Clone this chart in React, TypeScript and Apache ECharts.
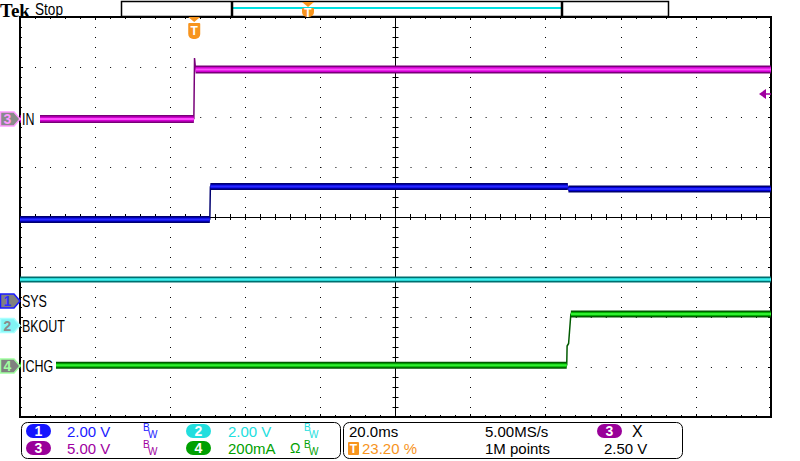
import React, { useEffect, useRef } from "react";
import * as echarts from "echarts";

// ---------- scope settings ----------
const GRID = { left: 20, top: 17, width: 751, height: 400 };
const X_DIVS = 10;
const Y_DIVS = 8;
const TIME_PER_DIV = 20; // ms
const TRIGGER_POS = 0.232; // 23.20 %
const T_MIN = -TRIGGER_POS * X_DIVS * TIME_PER_DIV;
const T_MAX = T_MIN + X_DIVS * TIME_PER_DIV;

// channel order: 1 SYS, 2 BKOUT, 3 IN, 4 ICHG
const channelNames = ["SYS", "BKOUT", "IN", "ICHG"];
const channelScale = [2, 2, 5, 200]; // V/div, V/div, V/div, mA/div
const channelGroundDiv = [5.68, 6.17, 2.04, 6.98]; // ground marker, divisions from top

// ---------- traces (time in ms, value in channel units) ----------
const ch1Time = [-46.4, 4.15, 4.3, 99.5, 99.65, 153.6];
const ch1Value = [3.26, 3.26, 4.58, 4.58, 4.48, 4.48];

const ch2Time = [-46.4, 153.6];
const ch2Value = [1.84, 1.84];

const ch3Time = [-46.4, -0.1, 0.08, 0.35, 153.6];
const ch3Value = [0, 0, 6.1, 4.95, 4.95];

const ch4Time = [-46.4, 99.2, 99.3, 99.7, 100.3, 153.6];
const ch4Value = [3, 3, 80, 90, 208, 208];

// ---------- status texts ----------
const vertSettings = ["2.00 V", "2.00 V", "5.00 V", "200mA"];
const horizTexts = ["20.0ms", "5.00MS/s", "1M points"];
const trigPercentText = "23.20 %";
const trigLevelText = "2.50 V";

const CH_COLORS = ["#1a1aff", "#22dede", "#a000a0", "#00a000"];

function groundY(i: number) {
  return GRID.top + channelGroundDiv[i] * (GRID.height / Y_DIVS);
}

function chAxis(i: number) {
  const s = channelScale[i];
  const off = channelGroundDiv[i];
  return {
    type: "value",
    gridIndex: 0,
    min: -(Y_DIVS - off) * s,
    max: off * s,
    show: false,
    axisLine: { onZero: false },
  };
}

function traceSeries(times: number[], values: number[], yIdx: number, dark: string, mid: string, core: string, bandW: number) {
  const full = times.map((t, i) => [t, values[i]]);
  const band: any[] = [];
  for (let i = 0; i < times.length - 1; i++) {
    if (values[i] === values[i + 1]) {
      band.push([times[i], values[i]], [times[i + 1], values[i]], [(times[i + 1] + (times[i + 2] ?? times[i + 1])) / 2, "-"]);
    }
  }
  const base = {
    type: "line",
    xAxisIndex: 1,
    yAxisIndex: yIdx,
    showSymbol: false,
    symbol: "none",
    silent: true,
    connectNulls: false,
  };
  return [
    { ...base, data: full, lineStyle: { color: dark, width: 1.5 }, z: 3 },
    { ...base, data: band, lineStyle: { color: dark, width: bandW }, z: 3 },
    { ...base, data: band, lineStyle: { color: mid, width: bandW - 3 }, z: 3 },
    { ...base, data: band, lineStyle: { color: core, width: 2 }, z: 3 },
  ];
}

const FONT = "'Liberation Sans', 'DejaVu Sans', sans-serif";

function txt(text: string, x: number, y: number, color: string, size = 15, extra: any = {}) {
  return {
    type: "text",
    x,
    y,
    z: 100,
    style: { text, fill: color, font: `${size}px ${FONT}`, textVerticalAlign: "middle", verticalAlign: "middle", ...extra },
  };
}

function pill(x: number, yc: number, color: string, label: string) {
  return [
    { type: "rect", z: 100, shape: { x, y: yc - 7, width: 25, height: 14, r: 7 }, style: { fill: color } },
    {
      type: "text",
      z: 101,
      x: x + 12.5,
      y: yc,
      style: { text: label, fill: "#fff", font: `bold 14px ${FONT}`, align: "center", textAlign: "center", verticalAlign: "middle", textVerticalAlign: "middle" },
    },
  ];
}

function bw(x: number, yc: number, color: string) {
  return [
    txt("B", x, yc - 4, color, 10),
    txt("W", x + 5, yc + 3, color, 10),
  ];
}

function chMarker(i: number, fill: string, stroke: string, numColor: string) {
  const y = groundY(i);
  return [
    {
      type: "polygon",
      z: 100,
      shape: { points: [[0.5, y - 7], [14, y - 7], [20, y], [14, y + 7], [0.5, y + 7]] },
      style: { fill, stroke, lineWidth: 1.5 },
    },
    {
      type: "text",
      z: 101,
      x: 7.5,
      y: y,
      style: { text: String(i + 1), fill: numColor, font: `bold 14px ${FONT}`, align: "center", textAlign: "center", verticalAlign: "middle", textVerticalAlign: "middle" },
    },
  ];
}

function chLabel(i: number, bgWidth: number) {
  const y = groundY(i);
  return [
    { type: "rect", z: 99, shape: { x: 21, y: y - 8, width: bgWidth, height: 16 }, style: { fill: "#fff" } },
    {
      type: "text",
      z: 100,
      x: 22,
      y: y + 0.5,
      scaleX: 0.78,
      style: { text: channelNames[i], fill: "#000", font: `16px ${FONT}`, verticalAlign: "middle", textVerticalAlign: "middle" },
    },
  ];
}

function trigT(x: number, y: number, h: number) {
  return [
    { type: "polygon", z: 100, shape: { points: [[x - 6, y], [x + 6, y], [x, y + 5]] }, style: { fill: "#f7941d" } },
    { type: "rect", z: 100, shape: { x: x - 6, y: y + 6, width: 12, height: h, r: [1, 1, 5, 5] }, style: { fill: "#f7941d" } },
    {
      type: "text",
      z: 101,
      x,
      y: y + 6 + h / 2,
      style: { text: "T", fill: "#fff", font: `bold 12px ${FONT}`, align: "center", textAlign: "center", verticalAlign: "middle", textVerticalAlign: "middle" },
    },
  ];
}

export default function App() {
  const ref = useRef<HTMLDivElement>(null);

  useEffect(() => {
    document.body.style.margin = "0";
    if (!ref.current) return;
    const chart = echarts.init(ref.current, undefined, { renderer: "svg" });

    const trigX = GRID.left + TRIGGER_POS * GRID.width;
    const trigLevelY = groundY(2) - (2.5 / channelScale[2]) * (GRID.height / Y_DIVS);
    const right = GRID.left + GRID.width;

    const divTicks = {
      axisLabel: { show: false },
      axisLine: { show: false, onZero: false },
      axisTick: { show: true, inside: true, length: 3, lineStyle: { color: "#000", width: 1 } },
      minorTick: { show: true, splitNumber: 5, length: 2, lineStyle: { color: "#000", width: 1 } },
    };
    const centerTicks = {
      axisLabel: { show: false },
      axisTick: { show: true, inside: true, length: 3, lineStyle: { color: "#000", width: 1 } },
      minorTick: { show: true, splitNumber: 5, length: 3, lineStyle: { color: "#000", width: 1 } },
      splitLine: { show: false },
    };

    const option: any = {
      animation: false,
      backgroundColor: "#fff",
      grid: {
        left: GRID.left,
        top: GRID.top,
        width: GRID.width,
        height: GRID.height,
        containLabel: false,
        outerBoundsMode: "none",
        show: true,
        borderColor: "#000",
        borderWidth: 2,
        backgroundColor: "transparent",
      },
      xAxis: [
        {
          type: "value", gridIndex: 0, min: 0, max: X_DIVS, interval: 1, position: "bottom",
          ...divTicks,
          splitLine: { show: true, lineStyle: { color: "#000", width: 1, type: [1, 9] } },
        },
        { type: "value", gridIndex: 0, min: T_MIN, max: T_MAX, show: false, axisLine: { onZero: false } },
        {
          type: "value", gridIndex: 0, min: 0, max: X_DIVS, interval: 1, position: "top",
          ...divTicks, splitLine: { show: false },
        },
        {
          type: "value", gridIndex: 0, min: -X_DIVS / 2, max: X_DIVS / 2, interval: 1, position: "bottom",
          axisLine: { show: true, onZero: true, onZeroAxisIndex: 7, lineStyle: { color: "#000", width: 1 } },
          ...centerTicks,
        },
        {
          type: "value", gridIndex: 0, min: -X_DIVS / 2, max: X_DIVS / 2, interval: 1, position: "top",
          axisLine: { show: false, onZero: true, onZeroAxisIndex: 7 },
          ...centerTicks,
        },
      ],
      yAxis: [
        {
          type: "value", gridIndex: 0, min: 0, max: Y_DIVS, interval: 1, position: "left",
          ...divTicks,
          splitLine: { show: true, lineStyle: { color: "#000", width: 1, type: [1, 14.02] } },
        },
        chAxis(0),
        chAxis(1),
        chAxis(2),
        chAxis(3),
        {
          type: "value", gridIndex: 0, min: 0, max: Y_DIVS, interval: 1, position: "right",
          ...divTicks, splitLine: { show: false },
        },
        { type: "value", gridIndex: 0, min: 0, max: 1, show: false, axisLine: { onZero: false } },
        {
          type: "value", gridIndex: 0, min: -Y_DIVS / 2, max: Y_DIVS / 2, interval: 1, position: "left",
          axisLine: { show: true, onZero: true, onZeroAxisIndex: 3, lineStyle: { color: "#000", width: 1 } },
          ...centerTicks,
        },
        {
          type: "value", gridIndex: 0, min: -Y_DIVS / 2, max: Y_DIVS / 2, interval: 1, position: "right",
          axisLine: { show: false, onZero: true, onZeroAxisIndex: 3 },
          ...centerTicks,
        },
      ],
      series: [
        ...traceSeries(ch2Time, ch2Value, 2, "#006e6e", "#10b8b8", "#40f0f0", 6),
        ...traceSeries(ch1Time, ch1Value, 1, "#000070", "#0000d8", "#2a2aff", 7),
        ...traceSeries(ch4Time, ch4Value, 4, "#005a00", "#00b000", "#30f030", 7),
        ...traceSeries(ch3Time, ch3Value, 3, "#780078", "#d000d0", "#ff4cff", 8),
      ],
      graphic: [
        // header
        { type: "text", z: 100, x: 0, y: 10, style: { text: "Tek", fill: "#000", font: "bold 19px 'Liberation Serif', 'DejaVu Serif', serif", verticalAlign: "middle", textVerticalAlign: "middle" } },
        { type: "text", z: 100, x: 35, y: 10, scaleX: 0.85, style: { text: "Stop", fill: "#000", font: `16px ${FONT}`, verticalAlign: "middle", textVerticalAlign: "middle" } },
        { type: "rect", z: 100, shape: { x: 121.5, y: 1.5, width: 547, height: 15 }, style: { fill: "#fff", stroke: "#000", lineWidth: 1.5 } },
        { type: "line", z: 101, shape: { x1: 233, y1: 8, x2: 561, y2: 8 }, style: { stroke: "#00e0e0", lineWidth: 2 } },
        { type: "line", z: 101, shape: { x1: 232, y1: 1, x2: 232, y2: 16 }, style: { stroke: "#000", lineWidth: 2.5 } },
        { type: "line", z: 101, shape: { x1: 562, y1: 1, x2: 562, y2: 16 }, style: { stroke: "#000", lineWidth: 2.5 } },
        ...trigT(308, 2, 9).map((e: any) => ({ ...e, z: 102 })),
        // trigger position marker
        ...trigT(trigX, 17, 16),
        // trigger level marker
        { type: "polygon", z: 100, shape: { points: [[759, trigLevelY], [766, trigLevelY - 5], [766, trigLevelY + 5]] }, style: { fill: "#a000a0" } },
        { type: "line", z: 100, shape: { x1: 765, y1: trigLevelY, x2: right, y2: trigLevelY }, style: { stroke: "#a000a0", lineWidth: 1.5 } },
        // channel labels
        ...chLabel(2, 19),
        ...chLabel(0, 0),
        ...chLabel(1, 0),
        ...chLabel(3, 35),
        // channel ground markers
        ...chMarker(2, "#8a8a8a", "#ff99ff", "#ff99ff"),
        ...chMarker(0, "#808080", "#1a1aff", "#3030ff"),
        ...chMarker(1, "#80f4f4", "#a8ffff", "#8a8a8a"),
        ...chMarker(3, "#808080", "#a0ffa0", "#a0ffa0"),
        // status boxes
        { type: "rect", z: 100, shape: { x: 21.5, y: 422.5, width: 319, height: 36, r: 6 }, style: { fill: "#fff", stroke: "#000", lineWidth: 1 } },
        { type: "rect", z: 100, shape: { x: 343.5, y: 422.5, width: 339, height: 36, r: 6 }, style: { fill: "#fff", stroke: "#000", lineWidth: 1 } },
        ...pill(26, 431, "#1515ff", "1"),
        txt(vertSettings[0], 67, 431, CH_COLORS[0]),
        ...bw(143, 431, CH_COLORS[0]),
        ...pill(186, 431, "#22dede", "2"),
        txt(vertSettings[1], 228, 431, CH_COLORS[1]),
        ...bw(304, 431, CH_COLORS[1]),
        ...pill(26, 448, "#990099", "3"),
        txt(vertSettings[2], 67, 448, CH_COLORS[2]),
        ...bw(143, 448, CH_COLORS[2]),
        ...pill(186, 448, "#00a000", "4"),
        txt(vertSettings[3], 228, 448, CH_COLORS[3]),
        txt("Ω", 290, 448, CH_COLORS[3], 14),
        ...bw(304, 448, CH_COLORS[3]),
        txt(horizTexts[0], 349, 431, "#000"),
        txt(horizTexts[1], 485, 431, "#000"),
        ...pill(597, 431, "#990099", "3"),
        txt("X", 632, 431, "#000", 16),
        { type: "rect", z: 100, shape: { x: 348, y: 442, width: 11, height: 13, r: 1 }, style: { fill: "#f7941d" } },
        { type: "text", z: 101, x: 353.5, y: 448.5, style: { text: "T", fill: "#fff", font: `bold 12px ${FONT}`, align: "center", textAlign: "center", verticalAlign: "middle", textVerticalAlign: "middle" } },
        txt(trigPercentText, 362, 448, "#f7941d"),
        txt(horizTexts[2], 485, 448, "#000"),
        txt(trigLevelText, 604, 448, "#000"),
      ],
    };

    chart.setOption(option);
    return () => chart.dispose();
  }, []);

  return <div ref={ref} style={{ width: 800, height: 461, background: "#fff" }} />;
}
